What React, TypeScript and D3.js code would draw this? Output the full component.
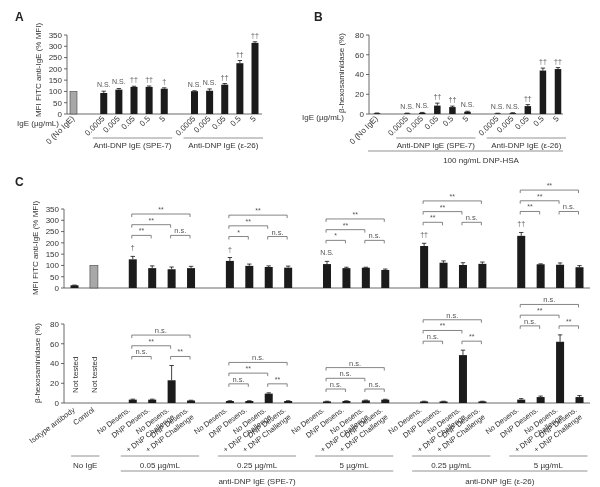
import React from 'react';
import * as d3 from 'd3';

const FONT = '"Liberation Sans", Arial, Helvetica, sans-serif';

// ---------- Panel A ----------
const doseLabels = ['0.0005', '0.005', '0.05', '0.5', '5'];
const controlLabel = '0 (No IgE)';
const groupLabelsAB = ['Anti-DNP IgE (SPE-7)', 'Anti-DNP IgE (ε-26)'];
const aTicks = [0, 50, 100, 150, 200, 250, 300, 350];
const aControl = 100;
const aSpeValues = [93, 108, 120, 120, 112];
const aSpeErrors = [8, 5, 3, 4, 4];
const aSpeMarks = ['N.S.', 'N.S.', '††', '††', '†'];
const aEpsValues = [101, 103, 130, 225, 315];
const aEpsErrors = [2, 8, 5, 12, 5];
const aEpsMarks = ['N.S.', 'N.S.', '††', '††', '††'];

// ---------- Panel B ----------
const bTicks = [0, 20, 40, 60, 80];
const bControl = 0.8;
const bControlErr = 0.2;
const bSpeValues = [0.6, 1.2, 8.5, 7, 2.3];
const bSpeErrors = [0.3, 0.4, 2.5, 1, 0.5];
const bSpeMarks = ['N.S.', 'N.S.', '††', '††', 'N.S.'];
const bEpsValues = [0.5, 0.9, 8, 44, 45.5];
const bEpsErrors = [0.3, 0.4, 1.5, 2.5, 1.5];
const bEpsMarks = ['N.S.', 'N.S.', '††', '††', '††'];

// ---------- Panel C ----------
const cCategories = [
  ['No Desens.'],
  ['DNP Desens.'],
  ['No Desens.', '+ DNP Challenge'],
  ['DNP Desens.', '+ DNP Challenge'],
];
const cControls = ['Isotype antibody', 'Control'];
const cGroups = ['0.05 µg/mL', '0.25 µg/mL', '5 µg/mL', '0.25 µg/mL', '5 µg/mL'];
const cTopTicks = [0, 50, 100, 150, 200, 250, 300, 350];
const cBotTicks = [0, 20, 40, 60, 80];
const cTopControlValues = [12, 100];
const cTopControlErrors = [1, 0];
const cTopValues = [
  [127, 88, 83, 88],
  [120, 98, 93, 90],
  [106, 88, 90, 80],
  [186, 112, 102, 107],
  [231, 105, 103, 92],
];
const cTopErrors = [
  [13, 10, 10, 8],
  [15, 8, 5, 7],
  [12, 4, 2, 4],
  [12, 8, 10, 8],
  [15, 2, 8, 7],
];
const cTopMarks = ['†', '†', 'N.S.', '††', '††'];
// order of comparisons: 1-2, 3-4, 1-3, 1-4
const cTopSig = [
  ['**', 'n.s.', '**', '**'],
  ['*', 'n.s.', '**', '**'],
  ['*', 'n.s.', '**', '**'],
  ['**', 'n.s.', '**', '**'],
  ['**', 'n.s.', '**', '**'],
];
const cBotValues = [
  [3.4, 3.4, 23, 2.5],
  [2, 2, 9.5, 2],
  [1.6, 2, 2.6, 3.4],
  [1.6, 1.6, 48.5, 1.6],
  [3.4, 6, 62, 6],
];
const cBotErrors = [
  [0.5, 0.5, 15, 0.3],
  [0.3, 0.3, 0.8, 0.3],
  [0.2, 0.2, 0.3, 0.4],
  [0.2, 0.2, 5, 0.2],
  [1, 1, 7, 1.5],
];
const cBotSig = [
  ['n.s.', '**', '**', 'n.s.'],
  ['n.s.', '**', '**', 'n.s.'],
  ['n.s.', 'n.s.', 'n.s.', 'n.s.'],
  ['n.s.', '**', '**', 'n.s.'],
  ['n.s.', '**', '**', 'n.s.'],
];
const cAntibodies = ['anti-DNP IgE (SPE-7)', 'anti-DNP IgE (ε-26)'];

const TEXT = '#333';
const AXIS = '#444';
const BAR = '#1b1b1b';
const GRAY = '#a8a8a8';
const ANGLE = -37;

type Sc = d3.ScaleLinear<number, number>;

function BarMark({ x, w, v, e, y, fill = BAR }: { x: number; w: number; v: number; e: number; y: Sc; fill?: string }) {
  const top = y(v);
  const base = y(0);
  return (
    <g>
      <rect x={x - w / 2} y={top} width={w} height={Math.max(0, base - top)} fill={fill} stroke={fill === BAR ? 'none' : '#444'} strokeWidth={0.6} />
      {e > 0 && (
        <g stroke="#111" strokeWidth={0.8}>
          <line x1={x} x2={x} y1={top} y2={y(v + e)} />
          <line x1={x - 2.2} x2={x + 2.2} y1={y(v + e)} y2={y(v + e)} />
        </g>
      )}
    </g>
  );
}

function YAxis({ x, y, ticks, top, bottom }: { x: number; y: Sc; ticks: number[]; top: number; bottom: number }) {
  return (
    <g>
      <line x1={x} x2={x} y1={top} y2={bottom} stroke={AXIS} strokeWidth={0.8} />
      {ticks.map((t) => (
        <g key={t}>
          <line x1={x - 3} x2={x} y1={y(t)} y2={y(t)} stroke={AXIS} strokeWidth={0.8} />
          <text x={x - 5} y={y(t)} dy="0.35em" textAnchor="end" fontSize={8} fill={TEXT}>
            {t}
          </text>
        </g>
      ))}
    </g>
  );
}

function Bracket({ x1, x2, yy, label }: { x1: number; x2: number; yy: number; label: string }) {
  return (
    <g>
      <path d={`M${x1},${yy + 3}V${yy}H${x2}V${yy + 3}`} fill="none" stroke="#666" strokeWidth={0.8} />
      <text x={(x1 + x2) / 2} y={yy - 2} textAnchor="middle" fontSize={label === 'n.s.' ? 7.5 : 7} fill="#555">
        {label}
      </text>
    </g>
  );
}

function DosePanel({
  x, y, axisX, baseEnd, ticks, control, controlErr, controlFill,
  spe, speErr, speMarks, eps, epsErr, epsMarks, barW, ylabel, ylabelX, ylabelY, igeX, igeY,
}: any) {
  const yAxisTop = y.range()[1];
  const y0 = y(0);
  const series = [
    { vals: spe, errs: speErr, marks: speMarks, start: 2 },
    { vals: eps, errs: epsErr, marks: epsMarks, start: 8 },
  ];
  return (
    <g>
      <YAxis x={axisX} y={y} ticks={ticks} top={yAxisTop} bottom={y0} />
      <line x1={axisX} x2={baseEnd} y1={y0} y2={y0} stroke={AXIS} strokeWidth={0.8} />
      <BarMark x={x(0)} w={barW} v={control} e={controlErr} y={y} fill={controlFill} />
      {series.map((s, si) =>
        s.vals.map((v: number, i: number) => (
          <g key={`${si}-${i}`}>
            <BarMark x={x(s.start + i)} w={barW} v={v} e={s.errs[i]} y={y} />
            <text x={x(s.start + i)} y={y(v + s.errs[i]) - 4} textAnchor="middle" fontSize={7} fill="#555">
              {s.marks[i]}
            </text>
          </g>
        ))
      )}
      {[controlLabel, ...doseLabels, ...doseLabels].map((lab, i) => {
        const slot = i === 0 ? 0 : i <= 5 ? i + 1 : i + 2;
        const cx = x(slot) + 1.5;
        return (
          <text key={i} transform={`translate(${cx},${y0 + 5}) rotate(-45)`} textAnchor="end" fontSize={8} fill={TEXT}>
            {lab}
          </text>
        );
      })}
      <text x={igeX} y={igeY} fontSize={8} fill={TEXT}>IgE (µg/mL)</text>
      {groupLabelsAB.map((g, gi) => {
        const s = gi === 0 ? 2 : 8;
        const x1 = x(s) - 11;
        const x2 = x(s + 4) + 8;
        return (
          <g key={g}>
            <line x1={x1} x2={x2} y1={y0 + 24} y2={y0 + 24} stroke="#777" strokeWidth={0.8} />
            <text x={(x1 + x2) / 2} y={y0 + 34} textAnchor="middle" fontSize={8} fill={TEXT}>{g}</text>
          </g>
        );
      })}
      <text transform={`translate(${ylabelX},${ylabelY}) rotate(-90)`} textAnchor="middle" fontSize={8} fill={TEXT}>
        {ylabel}
      </text>
    </g>
  );
}

export default function App() {
  const yA = d3.scaleLinear().domain([0, 350]).range([114, 35]);
  const xA = d3.scaleLinear().domain([0, 12]).range([73.5, 255]);
  const yB = d3.scaleLinear().domain([0, 80]).range([114, 35]);
  const xB = d3.scaleLinear().domain([0, 12]).range([377, 558]);
  const xC = d3.scaleLinear().domain([0, 26]).range([74.5, 579.5]);
  const yCt = d3.scaleLinear().domain([0, 350]).range([288, 209]);
  const yCb = d3.scaleLinear().domain([0, 80]).range([403, 324]);
  const slot = (g: number, i: number) => 3 + g * 5 + i;
  const cW = 8;
  const pairs = [[0, 1], [2, 3], [0, 2], [0, 3]];
  const levelIdx = [0, 0, 1, 2];
  const step = 10.7;

  return (
    <svg width={600} height={487} style={{ position: 'absolute', left: 0, top: 0, fontFamily: FONT, willChange: 'transform' }}>
      <rect width={600} height={487} fill="#fff" />
      <text x={15} y={21} fontSize={12} fontWeight="bold" fill="#222">A</text>
      <text x={314} y={21} fontSize={12} fontWeight="bold" fill="#222">B</text>
      <text x={15} y={186} fontSize={12} fontWeight="bold" fill="#222">C</text>

      <DosePanel
        x={xA} y={yA} axisX={67} baseEnd={262} ticks={aTicks} control={aControl} controlErr={0} controlFill={GRAY}
        spe={aSpeValues} speErr={aSpeErrors} speMarks={aSpeMarks} eps={aEpsValues} epsErr={aEpsErrors} epsMarks={aEpsMarks}
        barW={7} ylabel="MFI FITC anti-IgE (% MFI)" ylabelX={41} ylabelY={70} igeX={17} igeY={126}
      />
      <DosePanel
        x={xB} y={yB} axisX={369} baseEnd={563} ticks={bTicks} control={bControl} controlErr={bControlErr} controlFill={BAR}
        spe={bSpeValues} speErr={bSpeErrors} speMarks={bSpeMarks} eps={bEpsValues} epsErr={bEpsErrors} epsMarks={bEpsMarks}
        barW={6.5} ylabel="β-hexosaminidase (%)" ylabelX={344} ylabelY={73} igeX={302} igeY={120}
      />
      <line x1={368} x2={563} y1={151} y2={151} stroke="#777" strokeWidth={0.8} />
      <text x={481} y={163} textAnchor="middle" fontSize={8} fill={TEXT}>100 ng/mL DNP-HSA</text>

      {/* Panel C top */}
      <YAxis x={64} y={yCt} ticks={cTopTicks} top={209} bottom={288} />
      <line x1={64} x2={590} y1={288} y2={288} stroke={AXIS} strokeWidth={0.8} />
      {cTopControlValues.map((v, i) => (
        <BarMark key={i} x={xC(i)} w={cW} v={v} e={cTopControlErrors[i]} y={yCt} fill={i === 0 ? BAR : GRAY} />
      ))}
      {cTopValues.map((vals, g) => {
        const maxTop = d3.max(vals.map((v, i) => v + cTopErrors[g][i])) as number;
        const base = yCt(maxTop) - 21;
        return (
          <g key={g}>
            {vals.map((v, i) => (
              <BarMark key={i} x={xC(slot(g, i))} w={cW} v={v} e={cTopErrors[g][i]} y={yCt} />
            ))}
            <text x={xC(slot(g, 0))} y={yCt(vals[0] + cTopErrors[g][0]) - 6} textAnchor="middle" fontSize={7} fill="#555">
              {cTopMarks[g]}
            </text>
            {pairs.map((p, k) => (
              <Bracket key={k} x1={xC(slot(g, p[0])) - 1} x2={xC(slot(g, p[1])) - 1} yy={base - levelIdx[k] * step} label={cTopSig[g][k]} />
            ))}
          </g>
        );
      })}
      <text transform="translate(38,248) rotate(-90)" textAnchor="middle" fontSize={8} fill={TEXT}>MFI FITC anti-IgE (% MFI)</text>

      {/* Panel C bottom */}
      <YAxis x={64} y={yCb} ticks={cBotTicks} top={324} bottom={403} />
      <line x1={64} x2={590} y1={403} y2={403} stroke={AXIS} strokeWidth={0.8} />
      {cControls.map((c, i) => (
        <text key={c} transform={`translate(${xC(i) + 3},393) rotate(-90)`} fontSize={8} fill={TEXT}>Not tested</text>
      ))}
      {cBotValues.map((vals, g) => {
        const maxTop = d3.max(vals.map((v, i) => v + cBotErrors[g][i])) as number;
        const base = Math.min(yCb(maxTop) - 9, 389);
        return (
          <g key={g}>
            {vals.map((v, i) => (
              <BarMark key={i} x={xC(slot(g, i))} w={cW} v={v} e={cBotErrors[g][i]} y={yCb} />
            ))}
            {pairs.map((p, k) => (
              <Bracket key={k} x1={xC(slot(g, p[0])) - 1} x2={xC(slot(g, p[1])) - 1} yy={base - levelIdx[k] * step} label={cBotSig[g][k]} />
            ))}
          </g>
        );
      })}
      <text transform="translate(40,363) rotate(-90)" textAnchor="middle" fontSize={8} fill={TEXT}>β-hexosaminidase (%)</text>

      {/* C x labels */}
      {cControls.map((c, i) => (
        <text key={c} transform={`translate(${xC(i) + 1},411) rotate(${ANGLE})`} textAnchor="end" fontSize={7.5} fill={TEXT}>{c}</text>
      ))}
      {cGroups.map((_, g) =>
        cCategories.map((lines, i) => (
          <text key={`${g}-${i}`} transform={`translate(${xC(slot(g, i)) - 2},411) rotate(${ANGLE})`} textAnchor="end" fontSize={7.5} fill={TEXT}>
            {lines.map((l, li) => (
              <tspan key={li} x={0} dy={li === 0 ? 0 : '1.15em'}>{l}</tspan>
            ))}
          </text>
        ))
      )}
      {/* group lines */}
      <line x1={xC(0) - 3.5} x2={xC(1) + 5.5} y1={456} y2={456} stroke="#777" strokeWidth={0.8} />
      <text x={(xC(0) + xC(1)) / 2 + 1} y={468} textAnchor="middle" fontSize={8} fill={TEXT}>No IgE</text>
      {cGroups.map((lab, g) => {
        const x1 = xC(slot(g, 0)) - 12;
        const x2 = xC(slot(g, 3)) + 8;
        return (
          <g key={g}>
            <line x1={x1} x2={x2} y1={456} y2={456} stroke="#777" strokeWidth={0.8} />
            <text x={(x1 + x2) / 2} y={468} textAnchor="middle" fontSize={8} fill={TEXT}>{lab}</text>
          </g>
        );
      })}
      {cAntibodies.map((lab, a) => {
        const g0 = a === 0 ? 0 : 3;
        const g1 = a === 0 ? 2 : 4;
        const x1 = xC(slot(g0, 0)) - 12;
        const x2 = xC(slot(g1, 3)) + 8;
        return (
          <g key={lab}>
            <line x1={x1} x2={x2} y1={471} y2={471} stroke="#777" strokeWidth={0.8} />
            <text x={(x1 + x2) / 2} y={484} textAnchor="middle" fontSize={8} fill={TEXT}>{lab}</text>
          </g>
        );
      })}
    </svg>
  );
}
